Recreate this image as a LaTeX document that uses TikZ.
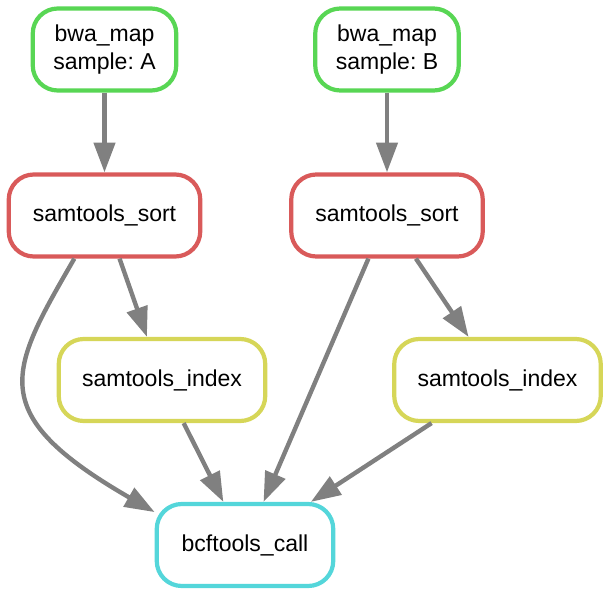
\documentclass[tikz,border=0pt]{standalone}
\usepackage{fontspec}
\setmainfont{Liberation Sans}
\usepackage{tikz}
\usetikzlibrary{arrows.meta,positioning}
\definecolor{mapgreen}{RGB}{88,214,84}
\definecolor{sortred}{RGB}{217,90,90}
\definecolor{indexyellow}{RGB}{214,214,88}
\definecolor{callcyan}{RGB}{84,214,218}
\definecolor{edgegray}{RGB}{128,128,128}
\frenchspacing

\begin{document}
\begin{tikzpicture}[
    rule/.style={draw, rectangle, rounded corners=0.5cm, line width=2.4pt, fill=white, minimum height=1.64cm, align=center, font=\fontsize{13.1}{15.6}\selectfont},
    dep/.style={-{Triangle[length=17pt, width=12pt]}, line width=2.5pt, color=edgegray}]
        \useasboundingbox (0,0) rectangle (12.2,-11.92);
        % Define nodes row by row, two samples side by side
        \node[rule, draw=mapgreen, minimum width=2.87cm] (mapA) at (2.09,-0.99) {bwa\_map\\sample: A};
        \node[rule, draw=mapgreen, minimum width=2.87cm] (mapB) at (7.74,-0.99) {bwa\_map\\sample: B};
        
        \node[rule, draw=sortred, minimum width=3.83cm] (sortA) at (2.09,-4.31) {samtools\_sort};
        \node[rule, draw=sortred, minimum width=3.83cm] (sortB) at (7.74,-4.31) {samtools\_sort};
        
        \node[rule, draw=indexyellow, minimum width=4.13cm] (indexA) at (3.24,-7.6) {samtools\_index};
        \node[rule, draw=indexyellow, minimum width=4.13cm] (indexB) at (9.95,-7.6) {samtools\_index};
        
        \node[rule, draw=callcyan, minimum width=3.53cm] (call) at (4.9,-10.9) {bcftools\_call};
        
        % Connect the jobs
        \draw[dep] (mapA) -- (sortA);
        \draw[dep] (mapB) -- (sortB);
        \draw[dep] (sortA) -- (indexA);
        \draw[dep] (sortB) -- (indexB);
        \draw[dep] (sortA.235) to[out=240, in=150, out looseness=1.25, in looseness=1.9] (call.160);
        \draw[dep] (sortB) -- (call);
        \draw[dep] (indexA) -- (call);
        \draw[dep] (indexB) -- (call);
    \end{tikzpicture}
\end{document}
